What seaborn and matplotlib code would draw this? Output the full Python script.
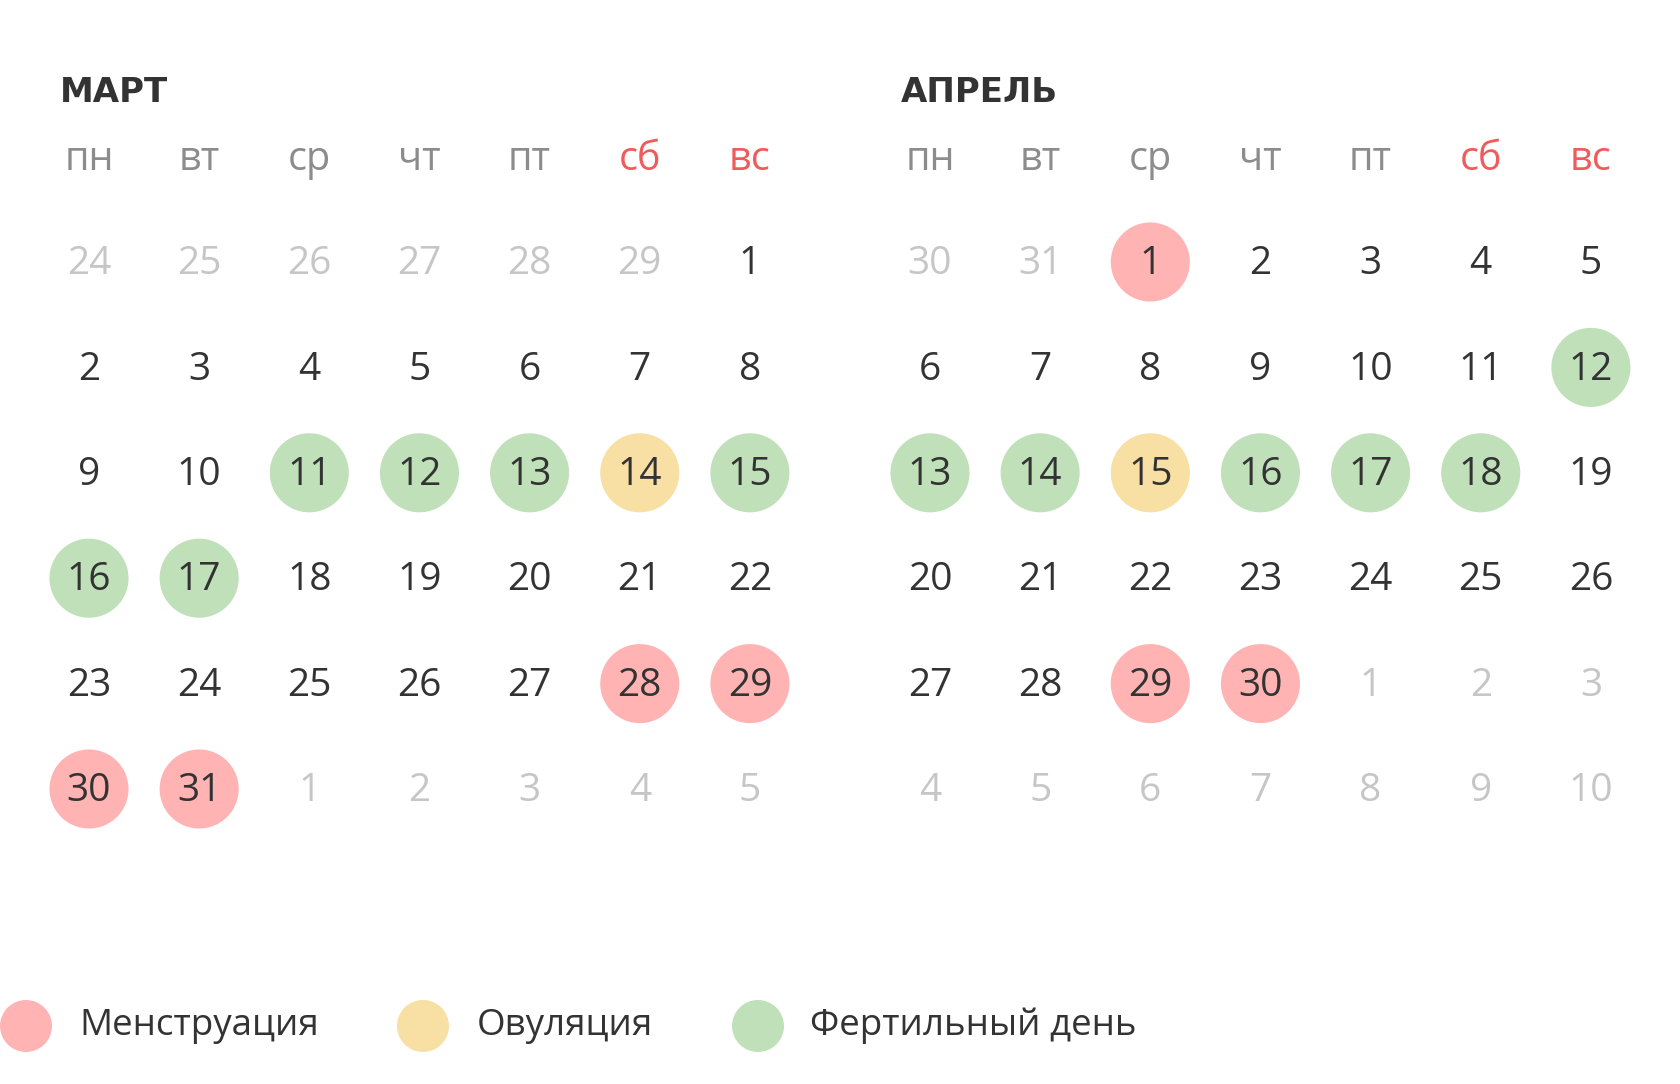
import matplotlib
matplotlib.use("Agg")
import matplotlib.pyplot as plt
import pandas as pd
import seaborn as sns

# ---------------- data ----------------
month_titles = ["МАРТ", "АПРЕЛЬ"]
weekdays = ["пн", "вт", "ср", "чт", "пт", "сб", "вс"]
weekend_flags = [False, False, False, False, False, True, True]

march_lead = [24, 25, 26, 27, 28, 29]
march_length = 31
march_trail = [1, 2, 3, 4, 5]

april_lead = [30, 31]
april_length = 30
april_trail = [1, 2, 3, 4, 5, 6, 7, 8, 9, 10]

march_menstruation = [28, 29, 30, 31]
march_ovulation = [14]
march_fertile = [11, 12, 13, 15, 16, 17]

april_menstruation = [1, 29, 30]
april_ovulation = [15]
april_fertile = [12, 13, 14, 16, 17, 18]

legend_labels = ["Менструация", "Овуляция", "Фертильный день"]
status_keys = ["menstruation", "ovulation", "fertile"]

# ---------------- styling ----------------
palette = {"menstruation": "#ffb3b3", "ovulation": "#f8dfa3", "fertile": "#bfe0b8"}
C_DAY = "#333333"
C_OUT = "#c6c6c6"
C_HEAD = "#8c8c8c"
C_WEEKEND = "#f05b5b"
C_TITLE = "#333333"

W, H = 1680, 1084
CELL_W, CELL_H = 110.15, 105.4
X0, Y0 = 89, 262
APRIL_OFF = (930 - X0) / CELL_W

sns.set_theme(style="white")
plt.rcParams["font.family"] = ["Open Sans", "DejaVu Sans"]

fig = plt.figure(figsize=(W / 100, H / 100), dpi=100)
ax = fig.add_axes([0, 0, 1, 1])
ax.set_xlim(-X0 / CELL_W, (W - X0) / CELL_W)
ax.set_ylim((H - Y0) / CELL_H, -Y0 / CELL_H)
ax.axis("off")

months = [
    dict(title=month_titles[0], lead=march_lead, length=march_length, trail=march_trail,
         status={"menstruation": march_menstruation, "ovulation": march_ovulation,
                 "fertile": march_fertile}, off=0.0),
    dict(title=month_titles[1], lead=april_lead, length=april_length, trail=april_trail,
         status={"menstruation": april_menstruation, "ovulation": april_ovulation,
                 "fertile": april_fertile}, off=APRIL_OFF),
]

rows = []
for m in months:
    cells = [(d, False) for d in m["lead"]] + \
            [(d, True) for d in range(1, m["length"] + 1)] + \
            [(d, False) for d in m["trail"]]
    lookup = {}
    for k, days in m["status"].items():
        for d in days:
            lookup[d] = k
    for idx, (d, inside) in enumerate(cells):
        rows.append(dict(x=m["off"] + idx % 7, y=idx // 7, day=d, inside=inside,
                         status=lookup.get(d) if inside else None))
df = pd.DataFrame(rows)

marked = df[df["status"].notna()]
sns.scatterplot(data=marked, x="x", y="y", hue="status", palette=palette,
                s=3240, linewidth=0, legend=False, ax=ax, zorder=2)

for _, r in df.iterrows():
    ax.text(r["x"], r["y"] + 0.02, str(r["day"]), ha="center", va="center",
            fontsize=28, color=C_DAY if r["inside"] else C_OUT, zorder=3)

for m in months:
    ax.text(m["off"] - 0.265, -1.61, m["title"], ha="left", va="center",
            fontsize=24.5, fontweight="bold", color=C_TITLE,
            family=["DejaVu Sans"])
    for i, (wd, we) in enumerate(zip(weekdays, weekend_flags)):
        ax.text(m["off"] + i, -0.97, wd, ha="center", va="center",
                fontsize=28.5, color=C_WEEKEND if we else C_HEAD)

# legend
leg_x = [(26 - X0) / CELL_W, (423 - X0) / CELL_W, (758 - X0) / CELL_W]
leg_text_x = [(79 - X0) / CELL_W, (477 - X0) / CELL_W, (810 - X0) / CELL_W]
leg_y = (1026 - Y0) / CELL_H
leg_df = pd.DataFrame({"x": leg_x, "y": [leg_y] * 3, "status": status_keys})
sns.scatterplot(data=leg_df, x="x", y="y", hue="status", palette=palette,
                s=1400, linewidth=0, legend=False, ax=ax, clip_on=False)
for tx, lab in zip(leg_text_x, legend_labels):
    ax.text(tx, leg_y, lab, ha="left", va="center", fontsize=26.5, color=C_DAY)

fig.savefig("out.png", dpi=100, facecolor="white")
